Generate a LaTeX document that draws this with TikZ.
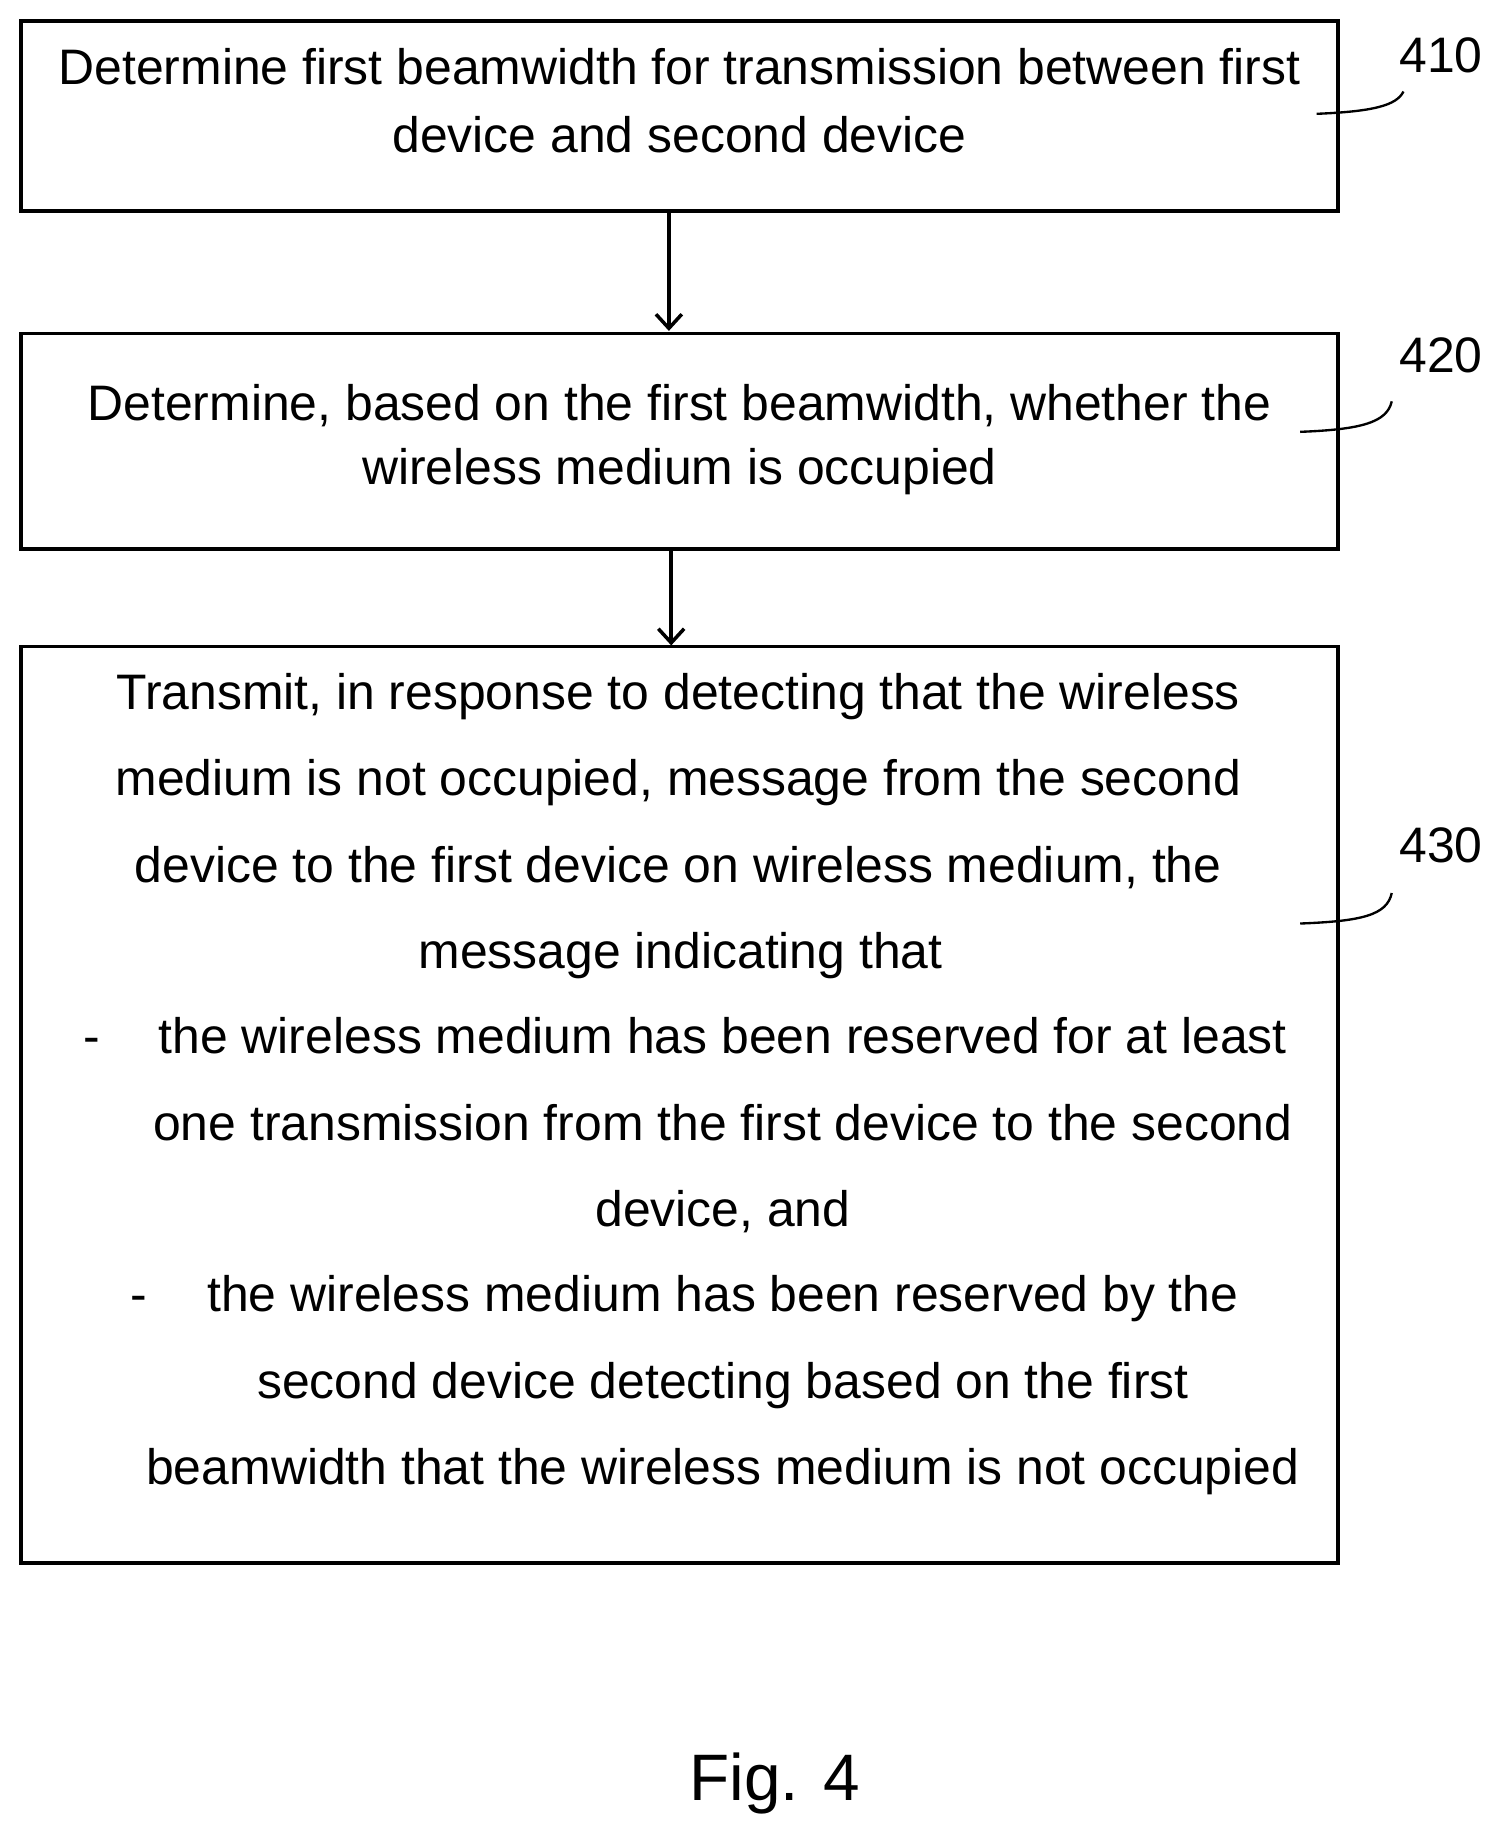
\documentclass[tikz,border=0pt]{standalone}
\usepackage{fontspec}
\setmainfont{Liberation Sans}
\usetikzlibrary{arrows.meta}
\begin{document}
\begin{tikzpicture}[x=1pt,y=-1pt,
  box/.style={draw,line width=3pt},
  t/.style={anchor=base,inner sep=0pt,font=\fontsize{42.5}{48}\selectfont},
  lab/.style={inner sep=0pt,font=\fontsize{42.5}{48}\selectfont},
  arr/.style={line width=3pt,-{Straight Barb[length=12pt,width=22pt,line width=3pt]}},
  lead/.style={line width=2pt}]
\useasboundingbox (0,0) rectangle (1280,1568);
\draw[box] (18,18) rectangle (1140,180);
\draw[box] (18,284) rectangle (1140,468);
\draw[box] (18,551) rectangle (1140,1332);
\coordinate (b1) at (570,180); \coordinate (t2) at (570,282);
\coordinate (b2) at (572,468); \coordinate (t3) at (572,550);
\draw[arr] (b1) -- (t2);
\draw[arr] (b2) -- (t3);
\node[t] (l1a) at (579,72) {Determine first beamwidth for transmission between first};
\node[t] (l1b) at (579,130) {device and second device};
\node[t] (l2a) at (579,358) {Determine, based on the first beamwidth, whether the};
\node[t] (l2b) at (579,413) {wireless medium is occupied};
\node[t] (m1) at (578,605) {Transmit, in response to detecting that the wireless};
\node[t] (m2) at (578,678) {medium is not occupied, message from the second};
\node[t] (m3) at (578,752) {device to the first device on wireless medium, the};
\node[t] (m4) at (580,825) {message indicating that};
\node[t] (d1) at (78,898) {-};
\node[t] (m5) at (616,898) {the wireless medium has been reserved for at least};
\node[t] (m6) at (616,972) {one transmission from the first device to the second};
\node[t] (m7) at (616,1045) {device, and};
\node[t] (d2) at (118,1118) {-};
\node[t] (m8) at (616,1118) {the wireless medium has been reserved by the};
\node[t] (m9) at (616,1192) {second device detecting based on the first};
\node[t] (m10) at (616,1265) {beamwidth that the wireless medium is not occupied};
\node[lab] (n410) at (1228,47) {410};
\node[lab] (n420) at (1228,303) {420};
\node[lab] (n430) at (1228,720) {430};
\coordinate (c1) at (1122,97); \coordinate (c2) at (1108,368); \coordinate (c3) at (1108,787);
\draw[lead] (c1) .. controls (1170,95) and (1190,90) .. (1196,78);
\draw[lead] (c2) .. controls (1160,366) and (1182,360) .. (1186,342);
\draw[lead] (c3) .. controls (1160,785) and (1182,780) .. (1186,761);
\node[inner sep=0pt,font=\fontsize{56}{60}\selectfont] (fig) at (660,1520) {Fig. 4};
\end{tikzpicture}
\end{document}
